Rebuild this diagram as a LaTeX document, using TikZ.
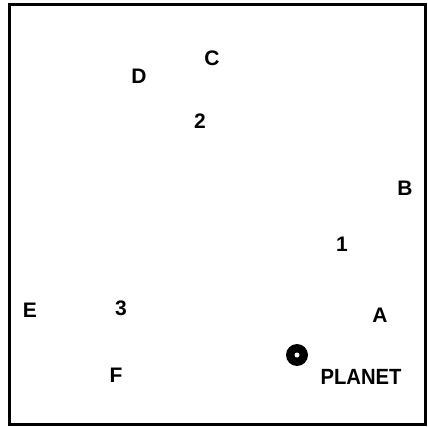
\documentclass[tikz,border=0pt]{standalone}
\usepackage{fontspec}
\setmainfont{Liberation Sans}
\begin{document}
\begin{tikzpicture}[x=1pt,y=-1pt,
  lbl/.style={font=\bfseries\fontsize{21}{21}\selectfont, inner sep=0pt},
  planetlbl/.style={font=\bfseries\fontsize{22}{22}\selectfont, inner sep=0pt, xscale=0.92}]
\useasboundingbox (0,0) rectangle (428,427);
\draw[line width=3pt] (9.5,5) rectangle (425.5,424.5);
\node[lbl] (D) at (139,76) {D};
\node[lbl] (C) at (212,58) {C};
\node[lbl] (n2) at (200,121) {2};
\node[lbl] (B) at (405,188) {B};
\node[lbl] (n1) at (342,244) {1};
\node[lbl] (E) at (30,310) {E};
\node[lbl] (n3) at (121,308) {3};
\node[lbl] (A) at (380,315) {A};
\node[lbl] (F) at (116,375) {F};
\node[circle, fill=black, minimum size=22pt, inner sep=0pt] (planet) at (297,355) {};
\node[circle, fill=white, minimum size=5pt, inner sep=0pt] (core) at (planet.center) {};
\node[planetlbl] (pl) at (361,377) {PLANET};
\end{tikzpicture}
\end{document}
